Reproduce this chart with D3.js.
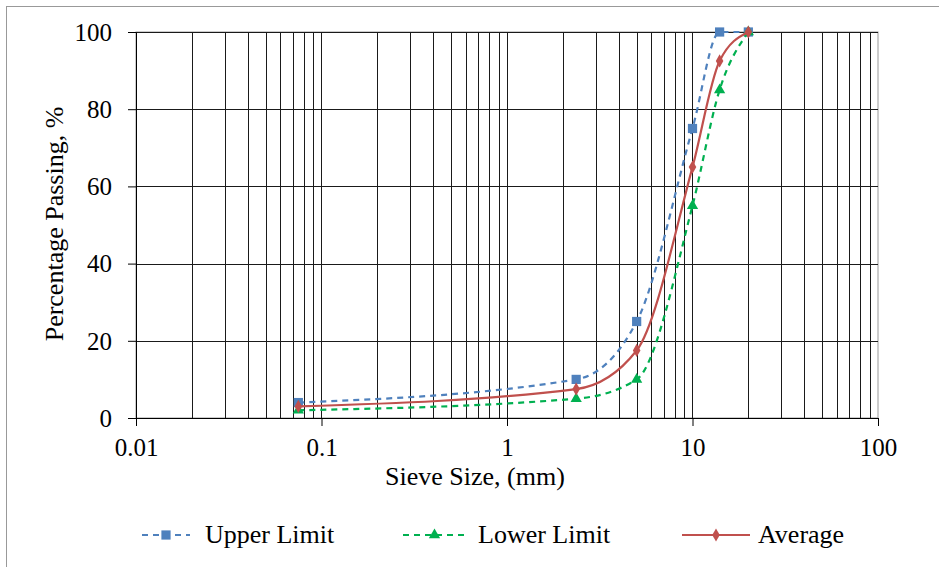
<!DOCTYPE html>
<html lang="en">
<head>
    <meta charset="utf-8">
    <title>Sieve Analysis</title>
    <style>
        body {
            margin: 0;
            background: #fff;
        }

        svg, svg text {
            font-family: "Liberation Serif", "Times New Roman", serif;
        }
    </style>
</head>
<body>

<svg width="939" height="567"></svg>

<script src="https://d3js.org/d3.v7.min.js"></script>
<script>

    // sieve sizes (mm) and percentage passing
    const sieves = [0.075, 2.36, 5, 10, 14, 20];
    const upperLimit = [4, 10, 25, 75, 100, 100];
    const lowerLimit = [2, 5, 10, 55, 85, 100];
    const average = [3, 7.5, 17.5, 65, 92.5, 100];

    const xTicks = [0.01, 0.1, 1, 10, 100];
    const yTicks = [0, 20, 40, 60, 80, 100];

    const margin = {top: 32, right: 61, bottom: 149, left: 136};

    const svg = d3.select("svg");
    const width = +svg.attr("width") - margin.left - margin.right;
    const height = +svg.attr("height") - margin.top - margin.bottom;

    // outer chart border (only left and top edges fall inside the picture)
    svg.append("rect")
        .attr("x", 6.5).attr("y", 6.5)
        .attr("width", 960).attr("height", 600)
        .attr("fill", "none")
        .attr("stroke", "#999");

    const vis = svg.append("g")
        .attr("transform", `translate(${margin.left},${margin.top})`);

    const x = d3.scaleLog().domain([0.01, 100]).range([0, width]);
    const y = d3.scaleLinear().domain([0, 100]).range([height, 0]);

    // plot area border
    vis.append("rect")
        .attr("x", 0).attr("y", 0)
        .attr("width", width).attr("height", height)
        .attr("fill", "none")
        .attr("stroke", "#999");

    // vertical grid, every 1..9 of each decade
    const minor = [];
    [0.01, 0.1, 1, 10].forEach(d => {
        for (let k = 1; k <= 9; k++) minor.push(+(d * k).toPrecision(3));
    });

    vis.append("g")
        .selectAll("line")
        .data(minor.filter(v => v > 0.01))
        .join("line")
        .attr("x1", d => Math.round(x(d)) + 0.5)
        .attr("x2", d => Math.round(x(d)) + 0.5)
        .attr("y1", 0)
        .attr("y2", height)
        .attr("stroke", "#1a1a1a");

    // horizontal grid
    vis.append("g")
        .selectAll("line")
        .data(yTicks.filter(v => v > 0))
        .join("line")
        .attr("x1", 0)
        .attr("x2", width)
        .attr("y1", d => Math.round(y(d)) + 0.5)
        .attr("y2", d => Math.round(y(d)) + 0.5)
        .attr("stroke", "#1a1a1a");

    // axes
    const xAxis = d3.axisBottom(x)
        .tickValues(xTicks)
        .tickFormat(d => String(d))
        .tickSize(8)
        .tickSizeOuter(0);
    const gx = vis.append("g")
        .attr("transform", `translate(0,${height})`)
        .call(xAxis)
        .attr("font-family", null)
        .attr("font-size", null);
    gx.select(".domain").attr("stroke", "#000");
    gx.selectAll(".tick line").attr("stroke", "#000");
    gx.selectAll(".tick text")
        .style("font-size", "25px")
        .attr("fill", "#000")
        .attr("dy", null)
        .attr("y", 38);

    const yAxis = d3.axisLeft(y)
        .tickValues(yTicks)
        .tickSize(8)
        .tickSizeOuter(0);
    const gy = vis.append("g").call(yAxis)
        .attr("font-family", null)
        .attr("font-size", null);
    gy.select(".domain").attr("stroke", "#000");
    gy.selectAll(".tick line").attr("stroke", "#000");
    gy.selectAll(".tick text")
        .style("font-size", "25px")
        .attr("fill", "#000")
        .attr("x", -24)
        .attr("dy", "0.33em");

    // x axis line extends to the 0 tick on the left
    vis.append("line")
        .attr("x1", -8).attr("x2", width)
        .attr("y1", height + 0.5).attr("y2", height + 0.5)
        .attr("stroke", "#000");

    // axis titles
    svg.append("text")
        .attr("x", 475)
        .attr("y", 485)
        .attr("text-anchor", "middle")
        .style("font-size", "26px")
        .text("Sieve Size, (mm)");

    svg.append("text")
        .attr("transform", "translate(63,224) rotate(-90)")
        .attr("text-anchor", "middle")
        .style("font-size", "26px")
        .text("Percentage Passing, %");

    // series
    const series = [
        {name: "Upper Limit", values: upperLimit, color: "#4F81BD", dash: "6,5", marker: d3.symbolSquare, size: 85},
        {name: "Lower Limit", values: lowerLimit, color: "#00B050", dash: "6,5", marker: d3.symbolTriangle, size: 55},
        {name: "Average", values: average, color: "#C0504D", dash: null, marker: d3.symbolDiamond, size: 50}
    ];

    const line = d3.line()
        .x(d => x(d[0]))
        .y(d => y(d[1]))
        .curve(d3.curveMonotoneX);

    series.forEach(s => {
        const pts = sieves.map((v, i) => [v, s.values[i]]);
        vis.append("path")
            .datum(pts)
            .attr("d", line)
            .attr("fill", "none")
            .attr("stroke", s.color)
            .attr("stroke-width", 2.2)
            .attr("stroke-dasharray", s.dash);
        vis.append("g")
            .selectAll("path")
            .data(pts)
            .join("path")
            .attr("transform", d => `translate(${x(d[0])},${y(d[1])})`)
            .attr("d", d3.symbol().type(s.marker).size(s.size))
            .attr("fill", s.color);
    });

    // legend
    const legendItems = [
        {lx1: 142, lx2: 190, tx: 205},
        {lx1: 403, lx2: 466, tx: 478},
        {lx1: 682, lx2: 750, tx: 758}
    ];
    const legend = svg.append("g");
    series.forEach((s, i) => {
        const p = legendItems[i];
        legend.append("line")
            .attr("x1", p.lx1).attr("x2", p.lx2)
            .attr("y1", 535).attr("y2", 535)
            .attr("stroke", s.color)
            .attr("stroke-width", 2.2)
            .attr("stroke-dasharray", s.dash);
        legend.append("path")
            .attr("transform", `translate(${(p.lx1 + p.lx2) / 2},535)`)
            .attr("d", d3.symbol().type(s.marker).size(s.size))
            .attr("fill", s.color);
        legend.append("text")
            .attr("x", p.tx)
            .attr("y", 543)
            .style("font-size", "26px")
            .text(s.name);
    });

</script>

</body>
</html>
